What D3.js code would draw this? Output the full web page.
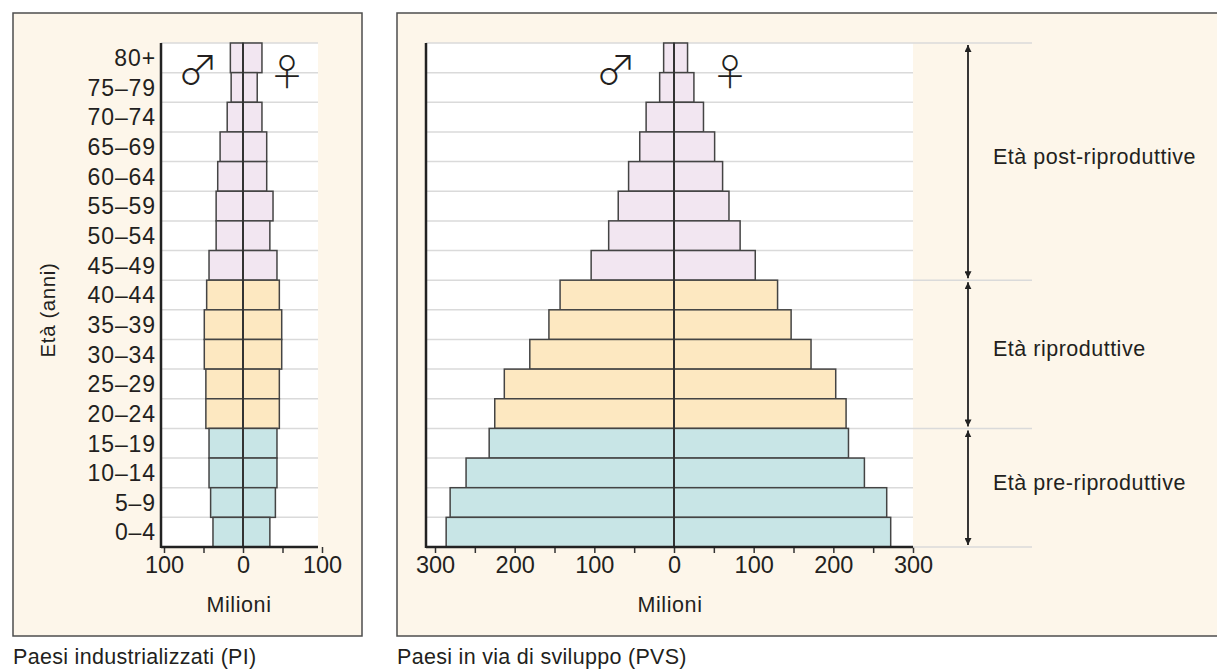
<!DOCTYPE html>
<html><head><meta charset="utf-8">
<script src="https://cdn.jsdelivr.net/npm/d3@7"></script>
<style>
html,body{margin:0;padding:0;background:#fff;}
svg{display:block;}
text{font-family:"Liberation Sans",Arial,sans-serif;fill:#231f20;}
</style></head>
<body>
<svg id="c" width="1217" height="670"></svg>
<script>
// ---- data ----
const ages = ["80+","75–79","70–74","65–69","60–64","55–59","50–54","45–49","40–44","35–39","30–34","25–29","20–24","15–19","10–14","5–9","0–4"];
const ageGroup = ["post","post","post","post","post","post","post","post","repro","repro","repro","repro","repro","pre","pre","pre","pre"];
const piMale   = [16,15,20,29,32,34,34,43,46,49,49,47,47,43,43,41,38];
const piFemale = [24,18,24,30,30,38,34,43,46,49,49,46,46,43,43,41,34];
const pvsMale   = [13,18,35,43,57,70,82,104,143,157,181,213,225,232,261,281,286];
const pvsFemale = [17,25,37,51,61,69,83,102,130,147,172,203,216,219,239,267,272];
const piTicks = [-100,-50,0,50,100];
const piTickLabels = [-100,0,100];
const pvsTicks = [-300,-250,-200,-150,-100,-50,0,50,100,150,200,250,300];
const pvsTickLabels = [-300,-200,-100,0,100,200,300];
const groupNames = ["post","repro","pre"];
const groupLabels = ["Età post-riproduttive","Età riproduttive","Età pre-riproduttive"];
const groupColors = {post:"#f2e6f1", repro:"#fde8c1", pre:"#c8e5e6"};

const svg = d3.select("#c");
const yTop = 43, yBottom = 547;
const y = d3.scaleBand().domain(ages).range([yTop, yBottom]).padding(0);

// frames
svg.append("rect").attr("x",13).attr("y",13).attr("width",349).attr("height",623)
  .attr("fill","#fdf6ea").attr("stroke","#4d4d4d").attr("stroke-width",1.5);
svg.append("rect").attr("x",397).attr("y",13).attr("width",830).attr("height",623)
  .attr("fill","#fdf6ea").attr("stroke","#4d4d4d").attr("stroke-width",1.5);

function pyramid(opts){
  const {x, males, females, ticks, tickLabels, plotLeft, plotRight, symOff} = opts;
  const g = svg.append("g");
  g.append("rect").attr("x",plotLeft).attr("y",yTop).attr("width",plotRight-plotLeft).attr("height",yBottom-yTop).attr("fill","#fff");
  const bounds = ages.map(a=>y(a));
  g.selectAll("line.grid").data(bounds).join("line")
    .attr("x1",plotLeft).attr("x2",plotRight).attr("y1",d=>d).attr("y2",d=>d)
    .attr("stroke","#dadada").attr("stroke-width",1.5);
  const rows = ages.map((a,i)=>({age:a, grp:ageGroup[i], m:males[i], f:females[i]}));
  g.selectAll("rect.m").data(rows).join("rect")
    .attr("x",d=>x(-d.m)).attr("y",d=>y(d.age)).attr("width",d=>x(0)-x(-d.m)).attr("height",y.bandwidth())
    .attr("fill",d=>groupColors[d.grp]).attr("stroke","#444").attr("stroke-width",1.5);
  g.selectAll("rect.f").data(rows).join("rect")
    .attr("x",x(0)).attr("y",d=>y(d.age)).attr("width",d=>x(d.f)-x(0)).attr("height",y.bandwidth())
    .attr("fill",d=>groupColors[d.grp]).attr("stroke","#444").attr("stroke-width",1.5);
  g.append("line").attr("x1",x(0)).attr("x2",x(0)).attr("y1",yTop).attr("y2",yBottom).attr("stroke","#333").attr("stroke-width",2);
  g.append("line").attr("x1",plotLeft).attr("x2",plotLeft).attr("y1",yTop).attr("y2",yBottom+1).attr("stroke","#222").attr("stroke-width",2.5);
  const ax = g.append("g").attr("transform",`translate(0,${yBottom})`)
    .call(d3.axisBottom(x).tickValues(ticks).tickSize(6).tickFormat(d=>tickLabels.includes(d)?Math.abs(d):""));
  ax.select(".domain").remove();
  ax.append("line").attr("x1",plotLeft).attr("x2",plotRight).attr("stroke","#222").attr("stroke-width",2.5);
  ax.selectAll(".tick line").attr("stroke","#333").attr("stroke-width",1.5);
  ax.selectAll(".tick text").attr("y",9).attr("dy","0.71em")
    .style("font-size","23.5px").style("font-family","'Liberation Sans',Arial,sans-serif").attr("fill","#231f20");
  g.append("text").attr("x",x(0)-4).attr("y",612).attr("text-anchor","middle").style("font-size","21.5px").style("letter-spacing","0.6px").text("Milioni");
  g.append("text").attr("x",x(0)-symOff[0]).attr("y",85).attr("text-anchor","middle").style("font-family","'Noto Sans CJK JP','DejaVu Sans'").style("font-weight","300").style("font-size","41px").attr("fill","#333").text("♂");
  g.append("text").attr("x",x(0)+symOff[1]).attr("y",86).attr("text-anchor","middle").style("font-family","'Noto Sans CJK JP','DejaVu Sans'").style("font-weight","300").style("font-size","37px").attr("fill","#333").text("♀");
  return g;
}

const xL = d3.scaleLinear().domain([-100,100]).range([164,322]);
pyramid({x:xL, males:piMale, females:piFemale, ticks:piTicks, tickLabels:piTickLabels, plotLeft:161, plotRight:318, symOff:[45,44]});

const xR = d3.scaleLinear().domain([-300,300]).range([435,913]);
pyramid({x:xR, males:pvsMale, females:pvsFemale, ticks:pvsTicks, tickLabels:pvsTickLabels, plotLeft:426, plotRight:913, symOff:[58,56]});

svg.append("g").selectAll("text").data(ages).join("text")
  .attr("x",156).attr("y",d=>y(d)+y.bandwidth()/2).attr("dy","0.36em").attr("text-anchor","end")
  .style("font-size","23px").style("letter-spacing","0.9px").text(d=>d);

svg.append("text").attr("transform","translate(55,310) rotate(-90)").attr("text-anchor","middle")
  .style("font-size","20.5px").style("letter-spacing","0.6px").text("Età (anni)");

const groupBounds = groupNames.map(gn=>{
  const idx = ageGroup.map((g,i)=>g===gn?i:-1).filter(i=>i>=0);
  return {name:gn, y0:y(ages[idx[0]]), y1:y(ages[idx[idx.length-1]])+y.bandwidth()};
});
const ann = svg.append("g");
const bLines = [yTop, ...groupBounds.map(d=>d.y1)];
ann.selectAll("line.b").data(bLines).join("line")
  .attr("x1",913).attr("x2",1032).attr("y1",d=>d).attr("y2",d=>d).attr("stroke","#dadada").attr("stroke-width",1.5);
const defs = svg.append("defs");
defs.append("marker").attr("id","ah").attr("viewBox","0 0 10 10").attr("refX",10).attr("refY",5)
  .attr("markerWidth",7).attr("markerHeight",7).attr("orient","auto-start-reverse").attr("markerUnits","userSpaceOnUse")
  .append("path").attr("d","M0,0 L10,5 L0,10 z").attr("fill","#222");
ann.selectAll("line.a").data(groupBounds).join("line")
  .attr("x1",968).attr("x2",968).attr("y1",d=>d.y0+2).attr("y2",d=>d.y1-2)
  .attr("stroke","#222").attr("stroke-width",1.8)
  .attr("marker-start","url(#ah)").attr("marker-end","url(#ah)");
ann.selectAll("text").data(groupBounds).join("text")
  .attr("x",993).attr("y",(d)=>(d.y0+d.y1)/2).attr("dy","0.1em")
  .style("font-size","21.5px").style("letter-spacing","0.5px").text((d,i)=>groupLabels[i]);

svg.append("text").attr("x",13).attr("y",664).style("font-size","21.5px").style("letter-spacing","0.3px").text("Paesi industrializzati (PI)");
svg.append("text").attr("x",397).attr("y",664).style("font-size","21.5px").style("letter-spacing","0.3px").text("Paesi in via di sviluppo (PVS)");
</script>
</body></html>
